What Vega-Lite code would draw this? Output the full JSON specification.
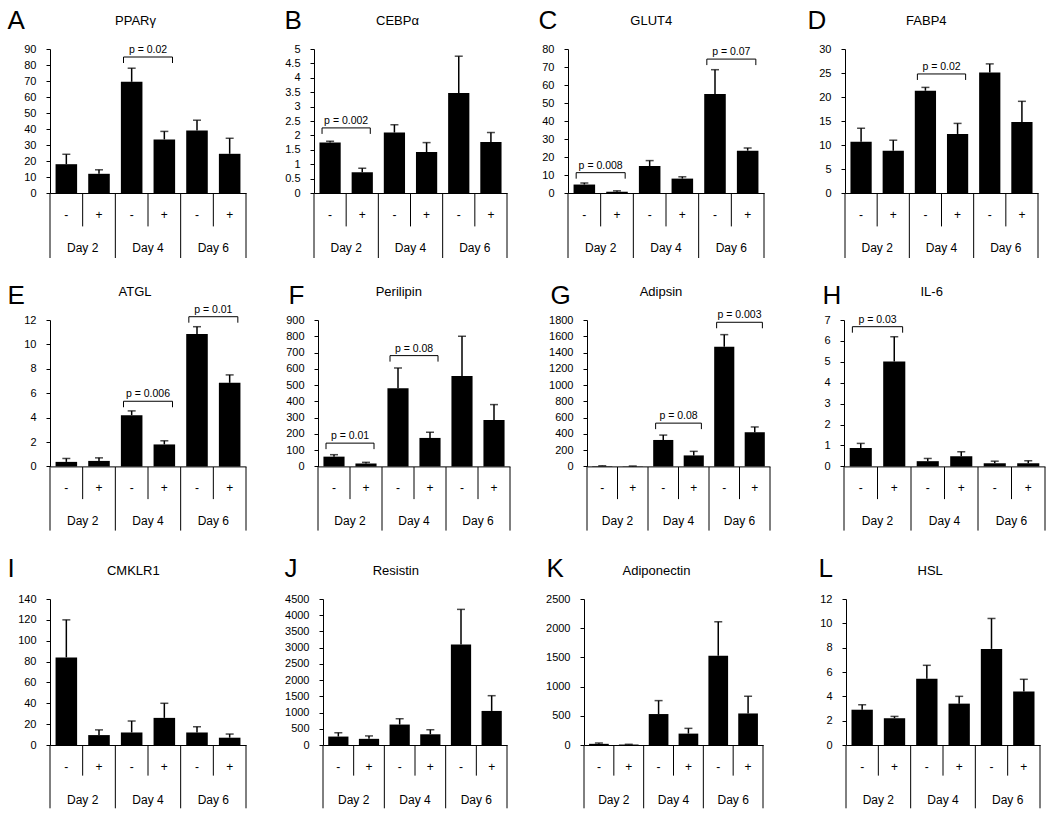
{
"$schema": "https://vega.github.io/schema/vega-lite/v6.json",
"padding": {"left": 7, "top": 4, "right": 5, "bottom": 5},
"datasets": {
"bars": [
{"p":"A","day":"Day 2","trt":"-","key":"D2-","mean":18,"upper":24.2},
{"p":"A","day":"Day 2","trt":"+","key":"D2+","mean":12,"upper":14.5},
{"p":"A","day":"Day 4","trt":"-","key":"D4-","mean":69.5,"upper":78},
{"p":"A","day":"Day 4","trt":"+","key":"D4+","mean":33.5,"upper":38.5},
{"p":"A","day":"Day 6","trt":"-","key":"D6-","mean":39,"upper":45.5},
{"p":"A","day":"Day 6","trt":"+","key":"D6+","mean":24.5,"upper":34.2},
{"p":"B","day":"Day 2","trt":"-","key":"D2-","mean":1.75,"upper":1.8},
{"p":"B","day":"Day 2","trt":"+","key":"D2+","mean":0.72,"upper":0.86},
{"p":"B","day":"Day 4","trt":"-","key":"D4-","mean":2.1,"upper":2.37},
{"p":"B","day":"Day 4","trt":"+","key":"D4+","mean":1.42,"upper":1.75},
{"p":"B","day":"Day 6","trt":"-","key":"D6-","mean":3.47,"upper":4.75},
{"p":"B","day":"Day 6","trt":"+","key":"D6+","mean":1.77,"upper":2.1},
{"p":"C","day":"Day 2","trt":"-","key":"D2-","mean":4.7,"upper":5.6},
{"p":"C","day":"Day 2","trt":"+","key":"D2+","mean":0.7,"upper":1.2},
{"p":"C","day":"Day 4","trt":"-","key":"D4-","mean":15,"upper":18},
{"p":"C","day":"Day 4","trt":"+","key":"D4+","mean":8,"upper":9},
{"p":"C","day":"Day 6","trt":"-","key":"D6-","mean":55,"upper":68.5},
{"p":"C","day":"Day 6","trt":"+","key":"D6+","mean":23.5,"upper":25},
{"p":"D","day":"Day 2","trt":"-","key":"D2-","mean":10.7,"upper":13.5},
{"p":"D","day":"Day 2","trt":"+","key":"D2+","mean":8.8,"upper":11},
{"p":"D","day":"Day 4","trt":"-","key":"D4-","mean":21.3,"upper":22},
{"p":"D","day":"Day 4","trt":"+","key":"D4+","mean":12.3,"upper":14.5},
{"p":"D","day":"Day 6","trt":"-","key":"D6-","mean":25.1,"upper":26.9},
{"p":"D","day":"Day 6","trt":"+","key":"D6+","mean":14.8,"upper":19.1},
{"p":"E","day":"Day 2","trt":"-","key":"D2-","mean":0.37,"upper":0.65},
{"p":"E","day":"Day 2","trt":"+","key":"D2+","mean":0.45,"upper":0.7},
{"p":"E","day":"Day 4","trt":"-","key":"D4-","mean":4.2,"upper":4.55},
{"p":"E","day":"Day 4","trt":"+","key":"D4+","mean":1.8,"upper":2.1},
{"p":"E","day":"Day 6","trt":"-","key":"D6-","mean":10.85,"upper":11.45},
{"p":"E","day":"Day 6","trt":"+","key":"D6+","mean":6.85,"upper":7.5},
{"p":"F","day":"Day 2","trt":"-","key":"D2-","mean":60,"upper":72},
{"p":"F","day":"Day 2","trt":"+","key":"D2+","mean":18,"upper":25},
{"p":"F","day":"Day 4","trt":"-","key":"D4-","mean":480,"upper":605},
{"p":"F","day":"Day 4","trt":"+","key":"D4+","mean":175,"upper":210},
{"p":"F","day":"Day 6","trt":"-","key":"D6-","mean":555,"upper":800},
{"p":"F","day":"Day 6","trt":"+","key":"D6+","mean":285,"upper":380},
{"p":"G","day":"Day 2","trt":"-","key":"D2-","mean":5,"upper":8},
{"p":"G","day":"Day 2","trt":"+","key":"D2+","mean":3,"upper":5},
{"p":"G","day":"Day 4","trt":"-","key":"D4-","mean":325,"upper":385},
{"p":"G","day":"Day 4","trt":"+","key":"D4+","mean":135,"upper":185},
{"p":"G","day":"Day 6","trt":"-","key":"D6-","mean":1470,"upper":1620},
{"p":"G","day":"Day 6","trt":"+","key":"D6+","mean":420,"upper":485},
{"p":"H","day":"Day 2","trt":"-","key":"D2-","mean":0.88,"upper":1.1},
{"p":"H","day":"Day 2","trt":"+","key":"D2+","mean":5.02,"upper":6.2},
{"p":"H","day":"Day 4","trt":"-","key":"D4-","mean":0.25,"upper":0.38},
{"p":"H","day":"Day 4","trt":"+","key":"D4+","mean":0.48,"upper":0.7},
{"p":"H","day":"Day 6","trt":"-","key":"D6-","mean":0.15,"upper":0.25},
{"p":"H","day":"Day 6","trt":"+","key":"D6+","mean":0.15,"upper":0.27},
{"p":"I","day":"Day 2","trt":"-","key":"D2-","mean":84,"upper":120},
{"p":"I","day":"Day 2","trt":"+","key":"D2+","mean":9.5,"upper":14.5},
{"p":"I","day":"Day 4","trt":"-","key":"D4-","mean":12,"upper":23},
{"p":"I","day":"Day 4","trt":"+","key":"D4+","mean":26,"upper":40},
{"p":"I","day":"Day 6","trt":"-","key":"D6-","mean":12,"upper":17.5},
{"p":"I","day":"Day 6","trt":"+","key":"D6+","mean":7,"upper":10.5},
{"p":"J","day":"Day 2","trt":"-","key":"D2-","mean":260,"upper":380},
{"p":"J","day":"Day 2","trt":"+","key":"D2+","mean":190,"upper":280},
{"p":"J","day":"Day 4","trt":"-","key":"D4-","mean":630,"upper":810},
{"p":"J","day":"Day 4","trt":"+","key":"D4+","mean":330,"upper":470},
{"p":"J","day":"Day 6","trt":"-","key":"D6-","mean":3100,"upper":4180},
{"p":"J","day":"Day 6","trt":"+","key":"D6+","mean":1050,"upper":1520},
{"p":"K","day":"Day 2","trt":"-","key":"D2-","mean":20,"upper":35},
{"p":"K","day":"Day 2","trt":"+","key":"D2+","mean":8,"upper":12},
{"p":"K","day":"Day 4","trt":"-","key":"D4-","mean":530,"upper":760},
{"p":"K","day":"Day 4","trt":"+","key":"D4+","mean":195,"upper":285},
{"p":"K","day":"Day 6","trt":"-","key":"D6-","mean":1530,"upper":2110},
{"p":"K","day":"Day 6","trt":"+","key":"D6+","mean":540,"upper":835},
{"p":"L","day":"Day 2","trt":"-","key":"D2-","mean":2.9,"upper":3.3},
{"p":"L","day":"Day 2","trt":"+","key":"D2+","mean":2.2,"upper":2.35},
{"p":"L","day":"Day 4","trt":"-","key":"D4-","mean":5.45,"upper":6.55},
{"p":"L","day":"Day 4","trt":"+","key":"D4+","mean":3.4,"upper":4.0},
{"p":"L","day":"Day 6","trt":"-","key":"D6-","mean":7.9,"upper":10.4},
{"p":"L","day":"Day 6","trt":"+","key":"D6+","mean":4.4,"upper":5.4}
],
"brk": [
{"p":"A","from":"D4-","to":"D4+","h":85,"label":"p = 0.02"},
{"p":"B","from":"D2-","to":"D2+","h":2.26,"label":"p = 0.002"},
{"p":"C","from":"D2-","to":"D2+","h":11.3,"label":"p = 0.008"},
{"p":"C","from":"D6-","to":"D6+","h":74.4,"label":"p = 0.07"},
{"p":"D","from":"D4-","to":"D4+","h":24.8,"label":"p = 0.02"},
{"p":"E","from":"D4-","to":"D4+","h":5.34,"label":"p = 0.006"},
{"p":"E","from":"D6-","to":"D6+","h":12.27,"label":"p = 0.01"},
{"p":"F","from":"D2-","to":"D2+","h":143,"label":"p = 0.01"},
{"p":"F","from":"D4-","to":"D4+","h":681,"label":"p = 0.08"},
{"p":"G","from":"D4-","to":"D4+","h":532,"label":"p = 0.08"},
{"p":"G","from":"D6-","to":"D6+","h":1772,"label":"p = 0.003"},
{"p":"H","from":"D2-","to":"D2+","h":6.68,"label":"p = 0.03"}
]
},
"vconcat": [
{"hconcat": [
{"vconcat": [
{"width": 196, "height": 144, "data": {"name": "bars"}, "transform": [{"filter": "datum.p === 'A'"}],
 "resolve": {"axis": {"x": "independent", "y": "independent"}},
 "layer": [
  {"mark": {"type": "bar", "width": {"band": 0.66}, "color": "black"},
   "encoding": {"x": {"field": "key", "type": "nominal", "scale": {"domain": ["D2-","D2+","D4-","D4+","D6-","D6+"], "paddingInner": 0, "paddingOuter": 0, "round": false}, "axis": {"orient": "bottom", "labels": false, "ticks": false, "title": null}},
    "y": {"field": "mean", "type": "quantitative", "scale": {"domain": [0, 90], "nice": false}, "axis": {"orient": "left", "values": [0,10,20,30,40,50,60,70,80,90], "format": "~r", "title": "A", "titleX": -43, "titleY": -21, "titleAngle": 0, "titleAlign": "left", "titleBaseline": "alphabetic", "titleFontSize": 26, "minExtent": 0}}}},
  {"mark": {"type": "rule", "strokeWidth": 1.5, "color": "black"},
   "encoding": {"x": {"field": "key", "type": "nominal", "axis": {"orient": "top", "labels": false, "ticks": false, "domain": false, "title": "PPARγ", "titleX": 85, "titleY": -28.6, "titleAlign": "center", "titleBaseline": "middle", "titleFontSize": 13, "minExtent": 45, "maxExtent": 45}},
    "y": {"field": "mean", "type": "quantitative", "axis": {"orient": "right", "labels": false, "ticks": false, "domain": false, "title": null, "minExtent": 38, "maxExtent": 38}},
    "y2": {"field": "upper"}}},
  {"mark": {"type": "tick", "orient": "horizontal", "size": 8, "thickness": 1.5, "color": "black"},
   "encoding": {"x": {"field": "key", "type": "nominal", "axis": null}, "y": {"field": "upper", "type": "quantitative", "axis": null}}},
  {"data": {"name": "brk"}, "transform": [{"filter": "datum.p === 'A'"}], "mark": {"type": "rule", "color": "black"},
   "encoding": {"x": {"field": "from", "type": "nominal", "bandPosition": 0.25, "axis": null}, "x2": {"field": "to", "bandPosition": 0.75}, "y": {"field": "h", "type": "quantitative", "axis": null}}},
  {"data": {"name": "brk"}, "transform": [{"filter": "datum.p === 'A'"}], "mark": {"type": "rule", "color": "black", "y2Offset": 6},
   "encoding": {"x": {"field": "from", "type": "nominal", "bandPosition": 0.25, "axis": null}, "y": {"field": "h", "type": "quantitative", "axis": null}, "y2": {"field": "h"}}},
  {"data": {"name": "brk"}, "transform": [{"filter": "datum.p === 'A'"}], "mark": {"type": "rule", "color": "black", "y2Offset": 6},
   "encoding": {"x": {"field": "to", "type": "nominal", "bandPosition": 0.75, "axis": null}, "y": {"field": "h", "type": "quantitative", "axis": null}, "y2": {"field": "h"}}},
  {"data": {"name": "brk"}, "transform": [{"filter": "datum.p === 'A'"}], "mark": {"type": "text", "fontSize": 10.5, "baseline": "alphabetic", "dy": -4},
   "encoding": {"x": {"field": "from", "type": "nominal", "bandPosition": 1, "axis": null}, "y": {"field": "h", "type": "quantitative", "axis": null}, "text": {"field": "label"}}}
 ]},
{"width": 196, "height": 65, "data": {"name": "bars"}, "transform": [{"filter": "datum.p === 'A'"}],
 "layer": [
  {"mark": {"type": "text", "fontSize": 12, "baseline": "middle"}, "encoding": {"x": {"field": "key", "type": "nominal", "scale": {"domain": ["D2-","D2+","D4-","D4+","D6-","D6+"], "paddingInner": 0, "paddingOuter": 0, "round": false}, "axis": null}, "y": {"datum": 0.334, "type": "quantitative", "scale": {"domain": [0, 1], "reverse": true}, "axis": null}, "text": {"field": "trt"}}},
  {"transform": [{"filter": "datum.trt === '-'"}], "mark": {"type": "text", "fontSize": 12, "baseline": "middle"}, "encoding": {"x": {"field": "key", "type": "nominal", "bandPosition": 1, "axis": null}, "y": {"datum": 0.846, "type": "quantitative", "axis": null}, "text": {"field": "day"}}},
  {"transform": [{"filter": "datum.trt === '+'"}], "mark": {"type": "rule", "color": "black"}, "encoding": {"x": {"field": "key", "type": "nominal", "bandPosition": 0, "axis": null}, "y": {"datum": 0, "type": "quantitative", "axis": null}, "y2": {"datum": 0.514}}},
  {"transform": [{"filter": "datum.trt === '-'"}], "mark": {"type": "rule", "color": "black"}, "encoding": {"x": {"field": "key", "type": "nominal", "bandPosition": 0, "axis": null}, "y": {"datum": 0, "type": "quantitative", "axis": null}, "y2": {"datum": 1}}},
  {"transform": [{"filter": "datum.key === 'D6+'"}], "mark": {"type": "rule", "color": "black"}, "encoding": {"x": {"field": "key", "type": "nominal", "bandPosition": 1, "axis": null}, "y": {"datum": 0, "type": "quantitative", "axis": null}, "y2": {"datum": 1}}}
 ]}
], "spacing": 0, "bounds": "flush"},
{"vconcat": [
{"width": 193, "height": 144, "data": {"name": "bars"}, "transform": [{"filter": "datum.p === 'B'"}],
 "resolve": {"axis": {"x": "independent", "y": "independent"}},
 "layer": [
  {"mark": {"type": "bar", "width": {"band": 0.66}, "color": "black"},
   "encoding": {"x": {"field": "key", "type": "nominal", "scale": {"domain": ["D2-","D2+","D4-","D4+","D6-","D6+"], "paddingInner": 0, "paddingOuter": 0, "round": false}, "axis": {"orient": "bottom", "labels": false, "ticks": false, "title": null}},
    "y": {"field": "mean", "type": "quantitative", "scale": {"domain": [0, 5], "nice": false}, "axis": {"orient": "left", "values": [0,0.5,1,1.5,2,2.5,3,3.5,4,4.5,5], "format": "~r", "title": "B", "titleX": -30, "titleY": -21, "titleAngle": 0, "titleAlign": "left", "titleBaseline": "alphabetic", "titleFontSize": 26, "minExtent": 0}}}},
  {"mark": {"type": "rule", "strokeWidth": 1.5, "color": "black"},
   "encoding": {"x": {"field": "key", "type": "nominal", "axis": {"orient": "top", "labels": false, "ticks": false, "domain": false, "title": "CEBPα", "titleX": 83, "titleY": -28.6, "titleAlign": "center", "titleBaseline": "middle", "titleFontSize": 13, "minExtent": 45, "maxExtent": 45}},
    "y": {"field": "mean", "type": "quantitative", "axis": {"orient": "right", "labels": false, "ticks": false, "domain": false, "title": null, "minExtent": 31, "maxExtent": 31}},
    "y2": {"field": "upper"}}},
  {"mark": {"type": "tick", "orient": "horizontal", "size": 8, "thickness": 1.5, "color": "black"},
   "encoding": {"x": {"field": "key", "type": "nominal", "axis": null}, "y": {"field": "upper", "type": "quantitative", "axis": null}}},
  {"data": {"name": "brk"}, "transform": [{"filter": "datum.p === 'B'"}], "mark": {"type": "rule", "color": "black"},
   "encoding": {"x": {"field": "from", "type": "nominal", "bandPosition": 0.25, "axis": null}, "x2": {"field": "to", "bandPosition": 0.75}, "y": {"field": "h", "type": "quantitative", "axis": null}}},
  {"data": {"name": "brk"}, "transform": [{"filter": "datum.p === 'B'"}], "mark": {"type": "rule", "color": "black", "y2Offset": 6},
   "encoding": {"x": {"field": "from", "type": "nominal", "bandPosition": 0.25, "axis": null}, "y": {"field": "h", "type": "quantitative", "axis": null}, "y2": {"field": "h"}}},
  {"data": {"name": "brk"}, "transform": [{"filter": "datum.p === 'B'"}], "mark": {"type": "rule", "color": "black", "y2Offset": 6},
   "encoding": {"x": {"field": "to", "type": "nominal", "bandPosition": 0.75, "axis": null}, "y": {"field": "h", "type": "quantitative", "axis": null}, "y2": {"field": "h"}}},
  {"data": {"name": "brk"}, "transform": [{"filter": "datum.p === 'B'"}], "mark": {"type": "text", "fontSize": 10.5, "baseline": "alphabetic", "dy": -4},
   "encoding": {"x": {"field": "from", "type": "nominal", "bandPosition": 1, "axis": null}, "y": {"field": "h", "type": "quantitative", "axis": null}, "text": {"field": "label"}}}
 ]},
{"width": 193, "height": 65, "data": {"name": "bars"}, "transform": [{"filter": "datum.p === 'B'"}],
 "layer": [
  {"mark": {"type": "text", "fontSize": 12, "baseline": "middle"}, "encoding": {"x": {"field": "key", "type": "nominal", "scale": {"domain": ["D2-","D2+","D4-","D4+","D6-","D6+"], "paddingInner": 0, "paddingOuter": 0, "round": false}, "axis": null}, "y": {"datum": 0.334, "type": "quantitative", "scale": {"domain": [0, 1], "reverse": true}, "axis": null}, "text": {"field": "trt"}}},
  {"transform": [{"filter": "datum.trt === '-'"}], "mark": {"type": "text", "fontSize": 12, "baseline": "middle"}, "encoding": {"x": {"field": "key", "type": "nominal", "bandPosition": 1, "axis": null}, "y": {"datum": 0.846, "type": "quantitative", "axis": null}, "text": {"field": "day"}}},
  {"transform": [{"filter": "datum.trt === '+'"}], "mark": {"type": "rule", "color": "black"}, "encoding": {"x": {"field": "key", "type": "nominal", "bandPosition": 0, "axis": null}, "y": {"datum": 0, "type": "quantitative", "axis": null}, "y2": {"datum": 0.514}}},
  {"transform": [{"filter": "datum.trt === '-'"}], "mark": {"type": "rule", "color": "black"}, "encoding": {"x": {"field": "key", "type": "nominal", "bandPosition": 0, "axis": null}, "y": {"datum": 0, "type": "quantitative", "axis": null}, "y2": {"datum": 1}}},
  {"transform": [{"filter": "datum.key === 'D6+'"}], "mark": {"type": "rule", "color": "black"}, "encoding": {"x": {"field": "key", "type": "nominal", "bandPosition": 1, "axis": null}, "y": {"datum": 0, "type": "quantitative", "axis": null}, "y2": {"datum": 1}}}
 ]}
], "spacing": 0, "bounds": "flush"},
{"vconcat": [
{"width": 196, "height": 144, "data": {"name": "bars"}, "transform": [{"filter": "datum.p === 'C'"}],
 "resolve": {"axis": {"x": "independent", "y": "independent"}},
 "layer": [
  {"mark": {"type": "bar", "width": {"band": 0.66}, "color": "black"},
   "encoding": {"x": {"field": "key", "type": "nominal", "scale": {"domain": ["D2-","D2+","D4-","D4+","D6-","D6+"], "paddingInner": 0, "paddingOuter": 0, "round": false}, "axis": {"orient": "bottom", "labels": false, "ticks": false, "title": null}},
    "y": {"field": "mean", "type": "quantitative", "scale": {"domain": [0, 80], "nice": false}, "axis": {"orient": "left", "values": [0,10,20,30,40,50,60,70,80], "format": "~r", "title": "C", "titleX": -30, "titleY": -21, "titleAngle": 0, "titleAlign": "left", "titleBaseline": "alphabetic", "titleFontSize": 26, "minExtent": 0}}}},
  {"mark": {"type": "rule", "strokeWidth": 1.5, "color": "black"},
   "encoding": {"x": {"field": "key", "type": "nominal", "axis": {"orient": "top", "labels": false, "ticks": false, "domain": false, "title": "GLUT4", "titleX": 82.8, "titleY": -28.6, "titleAlign": "center", "titleBaseline": "middle", "titleFontSize": 13, "minExtent": 45, "maxExtent": 45}},
    "y": {"field": "mean", "type": "quantitative", "axis": {"orient": "right", "labels": false, "ticks": false, "domain": false, "title": null, "minExtent": 43, "maxExtent": 43}},
    "y2": {"field": "upper"}}},
  {"mark": {"type": "tick", "orient": "horizontal", "size": 8, "thickness": 1.5, "color": "black"},
   "encoding": {"x": {"field": "key", "type": "nominal", "axis": null}, "y": {"field": "upper", "type": "quantitative", "axis": null}}},
  {"data": {"name": "brk"}, "transform": [{"filter": "datum.p === 'C'"}], "mark": {"type": "rule", "color": "black"},
   "encoding": {"x": {"field": "from", "type": "nominal", "bandPosition": 0.25, "axis": null}, "x2": {"field": "to", "bandPosition": 0.75}, "y": {"field": "h", "type": "quantitative", "axis": null}}},
  {"data": {"name": "brk"}, "transform": [{"filter": "datum.p === 'C'"}], "mark": {"type": "rule", "color": "black", "y2Offset": 6},
   "encoding": {"x": {"field": "from", "type": "nominal", "bandPosition": 0.25, "axis": null}, "y": {"field": "h", "type": "quantitative", "axis": null}, "y2": {"field": "h"}}},
  {"data": {"name": "brk"}, "transform": [{"filter": "datum.p === 'C'"}], "mark": {"type": "rule", "color": "black", "y2Offset": 6},
   "encoding": {"x": {"field": "to", "type": "nominal", "bandPosition": 0.75, "axis": null}, "y": {"field": "h", "type": "quantitative", "axis": null}, "y2": {"field": "h"}}},
  {"data": {"name": "brk"}, "transform": [{"filter": "datum.p === 'C'"}], "mark": {"type": "text", "fontSize": 10.5, "baseline": "alphabetic", "dy": -4},
   "encoding": {"x": {"field": "from", "type": "nominal", "bandPosition": 1, "axis": null}, "y": {"field": "h", "type": "quantitative", "axis": null}, "text": {"field": "label"}}}
 ]},
{"width": 196, "height": 65, "data": {"name": "bars"}, "transform": [{"filter": "datum.p === 'C'"}],
 "layer": [
  {"mark": {"type": "text", "fontSize": 12, "baseline": "middle"}, "encoding": {"x": {"field": "key", "type": "nominal", "scale": {"domain": ["D2-","D2+","D4-","D4+","D6-","D6+"], "paddingInner": 0, "paddingOuter": 0, "round": false}, "axis": null}, "y": {"datum": 0.334, "type": "quantitative", "scale": {"domain": [0, 1], "reverse": true}, "axis": null}, "text": {"field": "trt"}}},
  {"transform": [{"filter": "datum.trt === '-'"}], "mark": {"type": "text", "fontSize": 12, "baseline": "middle"}, "encoding": {"x": {"field": "key", "type": "nominal", "bandPosition": 1, "axis": null}, "y": {"datum": 0.846, "type": "quantitative", "axis": null}, "text": {"field": "day"}}},
  {"transform": [{"filter": "datum.trt === '+'"}], "mark": {"type": "rule", "color": "black"}, "encoding": {"x": {"field": "key", "type": "nominal", "bandPosition": 0, "axis": null}, "y": {"datum": 0, "type": "quantitative", "axis": null}, "y2": {"datum": 0.514}}},
  {"transform": [{"filter": "datum.trt === '-'"}], "mark": {"type": "rule", "color": "black"}, "encoding": {"x": {"field": "key", "type": "nominal", "bandPosition": 0, "axis": null}, "y": {"datum": 0, "type": "quantitative", "axis": null}, "y2": {"datum": 1}}},
  {"transform": [{"filter": "datum.key === 'D6+'"}], "mark": {"type": "rule", "color": "black"}, "encoding": {"x": {"field": "key", "type": "nominal", "bandPosition": 1, "axis": null}, "y": {"datum": 0, "type": "quantitative", "axis": null}, "y2": {"datum": 1}}}
 ]}
], "spacing": 0, "bounds": "flush"},
{"vconcat": [
{"width": 193, "height": 144, "data": {"name": "bars"}, "transform": [{"filter": "datum.p === 'D'"}],
 "resolve": {"axis": {"x": "independent", "y": "independent"}},
 "layer": [
  {"mark": {"type": "bar", "width": {"band": 0.66}, "color": "black"},
   "encoding": {"x": {"field": "key", "type": "nominal", "scale": {"domain": ["D2-","D2+","D4-","D4+","D6-","D6+"], "paddingInner": 0, "paddingOuter": 0, "round": false}, "axis": {"orient": "bottom", "labels": false, "ticks": false, "title": null}},
    "y": {"field": "mean", "type": "quantitative", "scale": {"domain": [0, 30], "nice": false}, "axis": {"orient": "left", "values": [0,5,10,15,20,25,30], "format": "~r", "title": "D", "titleX": -38, "titleY": -21, "titleAngle": 0, "titleAlign": "left", "titleBaseline": "alphabetic", "titleFontSize": 26, "minExtent": 0}}}},
  {"mark": {"type": "rule", "strokeWidth": 1.5, "color": "black"},
   "encoding": {"x": {"field": "key", "type": "nominal", "axis": {"orient": "top", "labels": false, "ticks": false, "domain": false, "title": "FABP4", "titleX": 80.8, "titleY": -28.6, "titleAlign": "center", "titleBaseline": "middle", "titleFontSize": 13, "minExtent": 45, "maxExtent": 45}},
    "y": {"field": "mean", "type": "quantitative", "axis": null},
    "y2": {"field": "upper"}}},
  {"mark": {"type": "tick", "orient": "horizontal", "size": 8, "thickness": 1.5, "color": "black"},
   "encoding": {"x": {"field": "key", "type": "nominal", "axis": null}, "y": {"field": "upper", "type": "quantitative", "axis": null}}},
  {"data": {"name": "brk"}, "transform": [{"filter": "datum.p === 'D'"}], "mark": {"type": "rule", "color": "black"},
   "encoding": {"x": {"field": "from", "type": "nominal", "bandPosition": 0.25, "axis": null}, "x2": {"field": "to", "bandPosition": 0.75}, "y": {"field": "h", "type": "quantitative", "axis": null}}},
  {"data": {"name": "brk"}, "transform": [{"filter": "datum.p === 'D'"}], "mark": {"type": "rule", "color": "black", "y2Offset": 6},
   "encoding": {"x": {"field": "from", "type": "nominal", "bandPosition": 0.25, "axis": null}, "y": {"field": "h", "type": "quantitative", "axis": null}, "y2": {"field": "h"}}},
  {"data": {"name": "brk"}, "transform": [{"filter": "datum.p === 'D'"}], "mark": {"type": "rule", "color": "black", "y2Offset": 6},
   "encoding": {"x": {"field": "to", "type": "nominal", "bandPosition": 0.75, "axis": null}, "y": {"field": "h", "type": "quantitative", "axis": null}, "y2": {"field": "h"}}},
  {"data": {"name": "brk"}, "transform": [{"filter": "datum.p === 'D'"}], "mark": {"type": "text", "fontSize": 10.5, "baseline": "alphabetic", "dy": -4},
   "encoding": {"x": {"field": "from", "type": "nominal", "bandPosition": 1, "axis": null}, "y": {"field": "h", "type": "quantitative", "axis": null}, "text": {"field": "label"}}}
 ]},
{"width": 193, "height": 65, "data": {"name": "bars"}, "transform": [{"filter": "datum.p === 'D'"}],
 "layer": [
  {"mark": {"type": "text", "fontSize": 12, "baseline": "middle"}, "encoding": {"x": {"field": "key", "type": "nominal", "scale": {"domain": ["D2-","D2+","D4-","D4+","D6-","D6+"], "paddingInner": 0, "paddingOuter": 0, "round": false}, "axis": null}, "y": {"datum": 0.334, "type": "quantitative", "scale": {"domain": [0, 1], "reverse": true}, "axis": null}, "text": {"field": "trt"}}},
  {"transform": [{"filter": "datum.trt === '-'"}], "mark": {"type": "text", "fontSize": 12, "baseline": "middle"}, "encoding": {"x": {"field": "key", "type": "nominal", "bandPosition": 1, "axis": null}, "y": {"datum": 0.846, "type": "quantitative", "axis": null}, "text": {"field": "day"}}},
  {"transform": [{"filter": "datum.trt === '+'"}], "mark": {"type": "rule", "color": "black"}, "encoding": {"x": {"field": "key", "type": "nominal", "bandPosition": 0, "axis": null}, "y": {"datum": 0, "type": "quantitative", "axis": null}, "y2": {"datum": 0.514}}},
  {"transform": [{"filter": "datum.trt === '-'"}], "mark": {"type": "rule", "color": "black"}, "encoding": {"x": {"field": "key", "type": "nominal", "bandPosition": 0, "axis": null}, "y": {"datum": 0, "type": "quantitative", "axis": null}, "y2": {"datum": 1}}},
  {"transform": [{"filter": "datum.key === 'D6+'"}], "mark": {"type": "rule", "color": "black"}, "encoding": {"x": {"field": "key", "type": "nominal", "bandPosition": 1, "axis": null}, "y": {"datum": 0, "type": "quantitative", "axis": null}, "y2": {"datum": 1}}}
 ]}
], "spacing": 0, "bounds": "flush"}
], "spacing": 0, "bounds": "full"},
{"hconcat": [
{"vconcat": [
{"width": 196, "height": 146.4, "data": {"name": "bars"}, "transform": [{"filter": "datum.p === 'E'"}],
 "resolve": {"axis": {"x": "independent", "y": "independent"}},
 "layer": [
  {"mark": {"type": "bar", "width": {"band": 0.66}, "color": "black"},
   "encoding": {"x": {"field": "key", "type": "nominal", "scale": {"domain": ["D2-","D2+","D4-","D4+","D6-","D6+"], "paddingInner": 0, "paddingOuter": 0, "round": false}, "axis": {"orient": "bottom", "labels": false, "ticks": false, "title": null}},
    "y": {"field": "mean", "type": "quantitative", "scale": {"domain": [0, 12], "nice": false}, "axis": {"orient": "left", "values": [0,2,4,6,8,10,12], "format": "~r", "title": "E", "titleX": -43, "titleY": -17, "titleAngle": 0, "titleAlign": "left", "titleBaseline": "alphabetic", "titleFontSize": 26, "minExtent": 0}}}},
  {"mark": {"type": "rule", "strokeWidth": 1.5, "color": "black"},
   "encoding": {"x": {"field": "key", "type": "nominal", "axis": {"orient": "top", "labels": false, "ticks": false, "domain": false, "title": "ATGL", "titleX": 84.5, "titleY": -29, "titleAlign": "center", "titleBaseline": "middle", "titleFontSize": 13, "minExtent": 61, "maxExtent": 61}},
    "y": {"field": "mean", "type": "quantitative", "axis": {"orient": "right", "labels": false, "ticks": false, "domain": false, "title": null, "minExtent": 39, "maxExtent": 39}},
    "y2": {"field": "upper"}}},
  {"mark": {"type": "tick", "orient": "horizontal", "size": 8, "thickness": 1.5, "color": "black"},
   "encoding": {"x": {"field": "key", "type": "nominal", "axis": null}, "y": {"field": "upper", "type": "quantitative", "axis": null}}},
  {"data": {"name": "brk"}, "transform": [{"filter": "datum.p === 'E'"}], "mark": {"type": "rule", "color": "black"},
   "encoding": {"x": {"field": "from", "type": "nominal", "bandPosition": 0.25, "axis": null}, "x2": {"field": "to", "bandPosition": 0.75}, "y": {"field": "h", "type": "quantitative", "axis": null}}},
  {"data": {"name": "brk"}, "transform": [{"filter": "datum.p === 'E'"}], "mark": {"type": "rule", "color": "black", "y2Offset": 6},
   "encoding": {"x": {"field": "from", "type": "nominal", "bandPosition": 0.25, "axis": null}, "y": {"field": "h", "type": "quantitative", "axis": null}, "y2": {"field": "h"}}},
  {"data": {"name": "brk"}, "transform": [{"filter": "datum.p === 'E'"}], "mark": {"type": "rule", "color": "black", "y2Offset": 6},
   "encoding": {"x": {"field": "to", "type": "nominal", "bandPosition": 0.75, "axis": null}, "y": {"field": "h", "type": "quantitative", "axis": null}, "y2": {"field": "h"}}},
  {"data": {"name": "brk"}, "transform": [{"filter": "datum.p === 'E'"}], "mark": {"type": "text", "fontSize": 10.5, "baseline": "alphabetic", "dy": -4},
   "encoding": {"x": {"field": "from", "type": "nominal", "bandPosition": 1, "axis": null}, "y": {"field": "h", "type": "quantitative", "axis": null}, "text": {"field": "label"}}}
 ]},
{"width": 196, "height": 63.6, "data": {"name": "bars"}, "transform": [{"filter": "datum.p === 'E'"}],
 "layer": [
  {"mark": {"type": "text", "fontSize": 12, "baseline": "middle"}, "encoding": {"x": {"field": "key", "type": "nominal", "scale": {"domain": ["D2-","D2+","D4-","D4+","D6-","D6+"], "paddingInner": 0, "paddingOuter": 0, "round": false}, "axis": null}, "y": {"datum": 0.323, "type": "quantitative", "scale": {"domain": [0, 1], "reverse": true}, "axis": null}, "text": {"field": "trt"}}},
  {"transform": [{"filter": "datum.trt === '-'"}], "mark": {"type": "text", "fontSize": 12, "baseline": "middle"}, "encoding": {"x": {"field": "key", "type": "nominal", "bandPosition": 1, "axis": null}, "y": {"datum": 0.844, "type": "quantitative", "axis": null}, "text": {"field": "day"}}},
  {"transform": [{"filter": "datum.trt === '+'"}], "mark": {"type": "rule", "color": "black"}, "encoding": {"x": {"field": "key", "type": "nominal", "bandPosition": 0, "axis": null}, "y": {"datum": 0, "type": "quantitative", "axis": null}, "y2": {"datum": 0.505}}},
  {"transform": [{"filter": "datum.trt === '-'"}], "mark": {"type": "rule", "color": "black"}, "encoding": {"x": {"field": "key", "type": "nominal", "bandPosition": 0, "axis": null}, "y": {"datum": 0, "type": "quantitative", "axis": null}, "y2": {"datum": 1}}},
  {"transform": [{"filter": "datum.key === 'D6+'"}], "mark": {"type": "rule", "color": "black"}, "encoding": {"x": {"field": "key", "type": "nominal", "bandPosition": 1, "axis": null}, "y": {"datum": 0, "type": "quantitative", "axis": null}, "y2": {"datum": 1}}}
 ]}
], "spacing": 0, "bounds": "flush"},
{"vconcat": [
{"width": 192, "height": 146.4, "data": {"name": "bars"}, "transform": [{"filter": "datum.p === 'F'"}],
 "resolve": {"axis": {"x": "independent", "y": "independent"}},
 "layer": [
  {"mark": {"type": "bar", "width": {"band": 0.66}, "color": "black"},
   "encoding": {"x": {"field": "key", "type": "nominal", "scale": {"domain": ["D2-","D2+","D4-","D4+","D6-","D6+"], "paddingInner": 0, "paddingOuter": 0, "round": false}, "axis": {"orient": "bottom", "labels": false, "ticks": false, "title": null}},
    "y": {"field": "mean", "type": "quantitative", "scale": {"domain": [0, 900], "nice": false}, "axis": {"orient": "left", "values": [0,100,200,300,400,500,600,700,800,900], "format": "~r", "title": "F", "titleX": -30, "titleY": -17, "titleAngle": 0, "titleAlign": "left", "titleBaseline": "alphabetic", "titleFontSize": 26, "minExtent": 0}}}},
  {"mark": {"type": "rule", "strokeWidth": 1.5, "color": "black"},
   "encoding": {"x": {"field": "key", "type": "nominal", "axis": {"orient": "top", "labels": false, "ticks": false, "domain": false, "title": "Perilipin", "titleX": 80.3, "titleY": -29, "titleAlign": "center", "titleBaseline": "middle", "titleFontSize": 13, "minExtent": 61, "maxExtent": 61}},
    "y": {"field": "mean", "type": "quantitative", "axis": {"orient": "right", "labels": false, "ticks": false, "domain": false, "title": null, "minExtent": 38, "maxExtent": 38}},
    "y2": {"field": "upper"}}},
  {"mark": {"type": "tick", "orient": "horizontal", "size": 8, "thickness": 1.5, "color": "black"},
   "encoding": {"x": {"field": "key", "type": "nominal", "axis": null}, "y": {"field": "upper", "type": "quantitative", "axis": null}}},
  {"data": {"name": "brk"}, "transform": [{"filter": "datum.p === 'F'"}], "mark": {"type": "rule", "color": "black"},
   "encoding": {"x": {"field": "from", "type": "nominal", "bandPosition": 0.25, "axis": null}, "x2": {"field": "to", "bandPosition": 0.75}, "y": {"field": "h", "type": "quantitative", "axis": null}}},
  {"data": {"name": "brk"}, "transform": [{"filter": "datum.p === 'F'"}], "mark": {"type": "rule", "color": "black", "y2Offset": 6},
   "encoding": {"x": {"field": "from", "type": "nominal", "bandPosition": 0.25, "axis": null}, "y": {"field": "h", "type": "quantitative", "axis": null}, "y2": {"field": "h"}}},
  {"data": {"name": "brk"}, "transform": [{"filter": "datum.p === 'F'"}], "mark": {"type": "rule", "color": "black", "y2Offset": 6},
   "encoding": {"x": {"field": "to", "type": "nominal", "bandPosition": 0.75, "axis": null}, "y": {"field": "h", "type": "quantitative", "axis": null}, "y2": {"field": "h"}}},
  {"data": {"name": "brk"}, "transform": [{"filter": "datum.p === 'F'"}], "mark": {"type": "text", "fontSize": 10.5, "baseline": "alphabetic", "dy": -4},
   "encoding": {"x": {"field": "from", "type": "nominal", "bandPosition": 1, "axis": null}, "y": {"field": "h", "type": "quantitative", "axis": null}, "text": {"field": "label"}}}
 ]},
{"width": 192, "height": 63.6, "data": {"name": "bars"}, "transform": [{"filter": "datum.p === 'F'"}],
 "layer": [
  {"mark": {"type": "text", "fontSize": 12, "baseline": "middle"}, "encoding": {"x": {"field": "key", "type": "nominal", "scale": {"domain": ["D2-","D2+","D4-","D4+","D6-","D6+"], "paddingInner": 0, "paddingOuter": 0, "round": false}, "axis": null}, "y": {"datum": 0.323, "type": "quantitative", "scale": {"domain": [0, 1], "reverse": true}, "axis": null}, "text": {"field": "trt"}}},
  {"transform": [{"filter": "datum.trt === '-'"}], "mark": {"type": "text", "fontSize": 12, "baseline": "middle"}, "encoding": {"x": {"field": "key", "type": "nominal", "bandPosition": 1, "axis": null}, "y": {"datum": 0.844, "type": "quantitative", "axis": null}, "text": {"field": "day"}}},
  {"transform": [{"filter": "datum.trt === '+'"}], "mark": {"type": "rule", "color": "black"}, "encoding": {"x": {"field": "key", "type": "nominal", "bandPosition": 0, "axis": null}, "y": {"datum": 0, "type": "quantitative", "axis": null}, "y2": {"datum": 0.505}}},
  {"transform": [{"filter": "datum.trt === '-'"}], "mark": {"type": "rule", "color": "black"}, "encoding": {"x": {"field": "key", "type": "nominal", "bandPosition": 0, "axis": null}, "y": {"datum": 0, "type": "quantitative", "axis": null}, "y2": {"datum": 1}}},
  {"transform": [{"filter": "datum.key === 'D6+'"}], "mark": {"type": "rule", "color": "black"}, "encoding": {"x": {"field": "key", "type": "nominal", "bandPosition": 1, "axis": null}, "y": {"datum": 0, "type": "quantitative", "axis": null}, "y2": {"datum": 1}}}
 ]}
], "spacing": 0, "bounds": "flush"},
{"vconcat": [
{"width": 183, "height": 146.4, "data": {"name": "bars"}, "transform": [{"filter": "datum.p === 'G'"}],
 "resolve": {"axis": {"x": "independent", "y": "independent"}},
 "layer": [
  {"mark": {"type": "bar", "width": {"band": 0.66}, "color": "black"},
   "encoding": {"x": {"field": "key", "type": "nominal", "scale": {"domain": ["D2-","D2+","D4-","D4+","D6-","D6+"], "paddingInner": 0, "paddingOuter": 0, "round": false}, "axis": {"orient": "bottom", "labels": false, "ticks": false, "title": null}},
    "y": {"field": "mean", "type": "quantitative", "scale": {"domain": [0, 1800], "nice": false}, "axis": {"orient": "left", "values": [0,200,400,600,800,1000,1200,1400,1600,1800], "format": "~r", "title": "G", "titleX": -37, "titleY": -17, "titleAngle": 0, "titleAlign": "left", "titleBaseline": "alphabetic", "titleFontSize": 26, "minExtent": 0}}}},
  {"mark": {"type": "rule", "strokeWidth": 1.5, "color": "black"},
   "encoding": {"x": {"field": "key", "type": "nominal", "axis": {"orient": "top", "labels": false, "ticks": false, "domain": false, "title": "Adipsin", "titleX": 73.5, "titleY": -29, "titleAlign": "center", "titleBaseline": "middle", "titleFontSize": 13, "minExtent": 61, "maxExtent": 61}},
    "y": {"field": "mean", "type": "quantitative", "axis": {"orient": "right", "labels": false, "ticks": false, "domain": false, "title": null, "minExtent": 52, "maxExtent": 52}},
    "y2": {"field": "upper"}}},
  {"mark": {"type": "tick", "orient": "horizontal", "size": 8, "thickness": 1.5, "color": "black"},
   "encoding": {"x": {"field": "key", "type": "nominal", "axis": null}, "y": {"field": "upper", "type": "quantitative", "axis": null}}},
  {"data": {"name": "brk"}, "transform": [{"filter": "datum.p === 'G'"}], "mark": {"type": "rule", "color": "black"},
   "encoding": {"x": {"field": "from", "type": "nominal", "bandPosition": 0.25, "axis": null}, "x2": {"field": "to", "bandPosition": 0.75}, "y": {"field": "h", "type": "quantitative", "axis": null}}},
  {"data": {"name": "brk"}, "transform": [{"filter": "datum.p === 'G'"}], "mark": {"type": "rule", "color": "black", "y2Offset": 6},
   "encoding": {"x": {"field": "from", "type": "nominal", "bandPosition": 0.25, "axis": null}, "y": {"field": "h", "type": "quantitative", "axis": null}, "y2": {"field": "h"}}},
  {"data": {"name": "brk"}, "transform": [{"filter": "datum.p === 'G'"}], "mark": {"type": "rule", "color": "black", "y2Offset": 6},
   "encoding": {"x": {"field": "to", "type": "nominal", "bandPosition": 0.75, "axis": null}, "y": {"field": "h", "type": "quantitative", "axis": null}, "y2": {"field": "h"}}},
  {"data": {"name": "brk"}, "transform": [{"filter": "datum.p === 'G'"}], "mark": {"type": "text", "fontSize": 10.5, "baseline": "alphabetic", "dy": -4},
   "encoding": {"x": {"field": "from", "type": "nominal", "bandPosition": 1, "axis": null}, "y": {"field": "h", "type": "quantitative", "axis": null}, "text": {"field": "label"}}}
 ]},
{"width": 183, "height": 63.6, "data": {"name": "bars"}, "transform": [{"filter": "datum.p === 'G'"}],
 "layer": [
  {"mark": {"type": "text", "fontSize": 12, "baseline": "middle"}, "encoding": {"x": {"field": "key", "type": "nominal", "scale": {"domain": ["D2-","D2+","D4-","D4+","D6-","D6+"], "paddingInner": 0, "paddingOuter": 0, "round": false}, "axis": null}, "y": {"datum": 0.323, "type": "quantitative", "scale": {"domain": [0, 1], "reverse": true}, "axis": null}, "text": {"field": "trt"}}},
  {"transform": [{"filter": "datum.trt === '-'"}], "mark": {"type": "text", "fontSize": 12, "baseline": "middle"}, "encoding": {"x": {"field": "key", "type": "nominal", "bandPosition": 1, "axis": null}, "y": {"datum": 0.844, "type": "quantitative", "axis": null}, "text": {"field": "day"}}},
  {"transform": [{"filter": "datum.trt === '+'"}], "mark": {"type": "rule", "color": "black"}, "encoding": {"x": {"field": "key", "type": "nominal", "bandPosition": 0, "axis": null}, "y": {"datum": 0, "type": "quantitative", "axis": null}, "y2": {"datum": 0.505}}},
  {"transform": [{"filter": "datum.trt === '-'"}], "mark": {"type": "rule", "color": "black"}, "encoding": {"x": {"field": "key", "type": "nominal", "bandPosition": 0, "axis": null}, "y": {"datum": 0, "type": "quantitative", "axis": null}, "y2": {"datum": 1}}},
  {"transform": [{"filter": "datum.key === 'D6+'"}], "mark": {"type": "rule", "color": "black"}, "encoding": {"x": {"field": "key", "type": "nominal", "bandPosition": 1, "axis": null}, "y": {"datum": 0, "type": "quantitative", "axis": null}, "y2": {"datum": 1}}}
 ]}
], "spacing": 0, "bounds": "flush"},
{"vconcat": [
{"width": 201, "height": 146.4, "data": {"name": "bars"}, "transform": [{"filter": "datum.p === 'H'"}],
 "resolve": {"axis": {"x": "independent", "y": "independent"}},
 "layer": [
  {"mark": {"type": "bar", "width": {"band": 0.66}, "color": "black"},
   "encoding": {"x": {"field": "key", "type": "nominal", "scale": {"domain": ["D2-","D2+","D4-","D4+","D6-","D6+"], "paddingInner": 0, "paddingOuter": 0, "round": false}, "axis": {"orient": "bottom", "labels": false, "ticks": false, "title": null}},
    "y": {"field": "mean", "type": "quantitative", "scale": {"domain": [0, 7], "nice": false}, "axis": {"orient": "left", "values": [0,1,2,3,4,5,6,7], "format": "~r", "title": "H", "titleX": -22, "titleY": -17, "titleAngle": 0, "titleAlign": "left", "titleBaseline": "alphabetic", "titleFontSize": 26, "minExtent": 0}}}},
  {"mark": {"type": "rule", "strokeWidth": 1.5, "color": "black"},
   "encoding": {"x": {"field": "key", "type": "nominal", "axis": {"orient": "top", "labels": false, "ticks": false, "domain": false, "title": "IL-6", "titleX": 87.2, "titleY": -29, "titleAlign": "center", "titleBaseline": "middle", "titleFontSize": 13, "minExtent": 61, "maxExtent": 61}},
    "y": {"field": "mean", "type": "quantitative", "axis": null},
    "y2": {"field": "upper"}}},
  {"mark": {"type": "tick", "orient": "horizontal", "size": 8, "thickness": 1.5, "color": "black"},
   "encoding": {"x": {"field": "key", "type": "nominal", "axis": null}, "y": {"field": "upper", "type": "quantitative", "axis": null}}},
  {"data": {"name": "brk"}, "transform": [{"filter": "datum.p === 'H'"}], "mark": {"type": "rule", "color": "black"},
   "encoding": {"x": {"field": "from", "type": "nominal", "bandPosition": 0.25, "axis": null}, "x2": {"field": "to", "bandPosition": 0.75}, "y": {"field": "h", "type": "quantitative", "axis": null}}},
  {"data": {"name": "brk"}, "transform": [{"filter": "datum.p === 'H'"}], "mark": {"type": "rule", "color": "black", "y2Offset": 6},
   "encoding": {"x": {"field": "from", "type": "nominal", "bandPosition": 0.25, "axis": null}, "y": {"field": "h", "type": "quantitative", "axis": null}, "y2": {"field": "h"}}},
  {"data": {"name": "brk"}, "transform": [{"filter": "datum.p === 'H'"}], "mark": {"type": "rule", "color": "black", "y2Offset": 6},
   "encoding": {"x": {"field": "to", "type": "nominal", "bandPosition": 0.75, "axis": null}, "y": {"field": "h", "type": "quantitative", "axis": null}, "y2": {"field": "h"}}},
  {"data": {"name": "brk"}, "transform": [{"filter": "datum.p === 'H'"}], "mark": {"type": "text", "fontSize": 10.5, "baseline": "alphabetic", "dy": -4},
   "encoding": {"x": {"field": "from", "type": "nominal", "bandPosition": 1, "axis": null}, "y": {"field": "h", "type": "quantitative", "axis": null}, "text": {"field": "label"}}}
 ]},
{"width": 201, "height": 63.6, "data": {"name": "bars"}, "transform": [{"filter": "datum.p === 'H'"}],
 "layer": [
  {"mark": {"type": "text", "fontSize": 12, "baseline": "middle"}, "encoding": {"x": {"field": "key", "type": "nominal", "scale": {"domain": ["D2-","D2+","D4-","D4+","D6-","D6+"], "paddingInner": 0, "paddingOuter": 0, "round": false}, "axis": null}, "y": {"datum": 0.323, "type": "quantitative", "scale": {"domain": [0, 1], "reverse": true}, "axis": null}, "text": {"field": "trt"}}},
  {"transform": [{"filter": "datum.trt === '-'"}], "mark": {"type": "text", "fontSize": 12, "baseline": "middle"}, "encoding": {"x": {"field": "key", "type": "nominal", "bandPosition": 1, "axis": null}, "y": {"datum": 0.844, "type": "quantitative", "axis": null}, "text": {"field": "day"}}},
  {"transform": [{"filter": "datum.trt === '+'"}], "mark": {"type": "rule", "color": "black"}, "encoding": {"x": {"field": "key", "type": "nominal", "bandPosition": 0, "axis": null}, "y": {"datum": 0, "type": "quantitative", "axis": null}, "y2": {"datum": 0.505}}},
  {"transform": [{"filter": "datum.trt === '-'"}], "mark": {"type": "rule", "color": "black"}, "encoding": {"x": {"field": "key", "type": "nominal", "bandPosition": 0, "axis": null}, "y": {"datum": 0, "type": "quantitative", "axis": null}, "y2": {"datum": 1}}},
  {"transform": [{"filter": "datum.key === 'D6+'"}], "mark": {"type": "rule", "color": "black"}, "encoding": {"x": {"field": "key", "type": "nominal", "bandPosition": 1, "axis": null}, "y": {"datum": 0, "type": "quantitative", "axis": null}, "y2": {"datum": 1}}}
 ]}
], "spacing": 0, "bounds": "flush"}
], "spacing": 0, "bounds": "full"},
{"hconcat": [
{"vconcat": [
{"width": 196, "height": 146, "data": {"name": "bars"}, "transform": [{"filter": "datum.p === 'I'"}],
 "resolve": {"axis": {"x": "independent", "y": "independent"}},
 "layer": [
  {"mark": {"type": "bar", "width": {"band": 0.66}, "color": "black"},
   "encoding": {"x": {"field": "key", "type": "nominal", "scale": {"domain": ["D2-","D2+","D4-","D4+","D6-","D6+"], "paddingInner": 0, "paddingOuter": 0, "round": false}, "axis": {"orient": "bottom", "labels": false, "ticks": false, "title": null}},
    "y": {"field": "mean", "type": "quantitative", "scale": {"domain": [0, 140], "nice": false}, "axis": {"orient": "left", "values": [0,20,40,60,80,100,120,140], "format": "~r", "title": "I", "titleX": -43, "titleY": -22.3, "titleAngle": 0, "titleAlign": "left", "titleBaseline": "alphabetic", "titleFontSize": 26, "minExtent": 0}}}},
  {"mark": {"type": "rule", "strokeWidth": 1.5, "color": "black"},
   "encoding": {"x": {"field": "key", "type": "nominal", "axis": {"orient": "top", "labels": false, "ticks": false, "domain": false, "title": "CMKLR1", "titleX": 82.8, "titleY": -28.3, "titleAlign": "center", "titleBaseline": "middle", "titleFontSize": 13, "minExtent": 66.7, "maxExtent": 66.7}},
    "y": {"field": "mean", "type": "quantitative", "axis": {"orient": "right", "labels": false, "ticks": false, "domain": false, "title": null, "minExtent": 38, "maxExtent": 38}},
    "y2": {"field": "upper"}}},
  {"mark": {"type": "tick", "orient": "horizontal", "size": 8, "thickness": 1.5, "color": "black"},
   "encoding": {"x": {"field": "key", "type": "nominal", "axis": null}, "y": {"field": "upper", "type": "quantitative", "axis": null}}}
 ]},
{"width": 196, "height": 63.3, "data": {"name": "bars"}, "transform": [{"filter": "datum.p === 'I'"}],
 "layer": [
  {"mark": {"type": "text", "fontSize": 12, "baseline": "middle"}, "encoding": {"x": {"field": "key", "type": "nominal", "scale": {"domain": ["D2-","D2+","D4-","D4+","D6-","D6+"], "paddingInner": 0, "paddingOuter": 0, "round": false}, "axis": null}, "y": {"datum": 0.342, "type": "quantitative", "scale": {"domain": [0, 1], "reverse": true}, "axis": null}, "text": {"field": "trt"}}},
  {"transform": [{"filter": "datum.trt === '-'"}], "mark": {"type": "text", "fontSize": 12, "baseline": "middle"}, "encoding": {"x": {"field": "key", "type": "nominal", "bandPosition": 1, "axis": null}, "y": {"datum": 0.868, "type": "quantitative", "axis": null}, "text": {"field": "day"}}},
  {"transform": [{"filter": "datum.trt === '+'"}], "mark": {"type": "rule", "color": "black"}, "encoding": {"x": {"field": "key", "type": "nominal", "bandPosition": 0, "axis": null}, "y": {"datum": 0, "type": "quantitative", "axis": null}, "y2": {"datum": 0.484}}},
  {"transform": [{"filter": "datum.trt === '-'"}], "mark": {"type": "rule", "color": "black"}, "encoding": {"x": {"field": "key", "type": "nominal", "bandPosition": 0, "axis": null}, "y": {"datum": 0, "type": "quantitative", "axis": null}, "y2": {"datum": 1}}},
  {"transform": [{"filter": "datum.key === 'D6+'"}], "mark": {"type": "rule", "color": "black"}, "encoding": {"x": {"field": "key", "type": "nominal", "bandPosition": 1, "axis": null}, "y": {"datum": 0, "type": "quantitative", "axis": null}, "y2": {"datum": 1}}}
 ]}
], "spacing": 0, "bounds": "flush"},
{"vconcat": [
{"width": 184, "height": 146, "data": {"name": "bars"}, "transform": [{"filter": "datum.p === 'J'"}],
 "resolve": {"axis": {"x": "independent", "y": "independent"}},
 "layer": [
  {"mark": {"type": "bar", "width": {"band": 0.66}, "color": "black"},
   "encoding": {"x": {"field": "key", "type": "nominal", "scale": {"domain": ["D2-","D2+","D4-","D4+","D6-","D6+"], "paddingInner": 0, "paddingOuter": 0, "round": false}, "axis": {"orient": "bottom", "labels": false, "ticks": false, "title": null}},
    "y": {"field": "mean", "type": "quantitative", "scale": {"domain": [0, 4500], "nice": false}, "axis": {"orient": "left", "values": [0,500,1000,1500,2000,2500,3000,3500,4000,4500], "format": "~r", "title": "J", "titleX": -39, "titleY": -22.3, "titleAngle": 0, "titleAlign": "left", "titleBaseline": "alphabetic", "titleFontSize": 26, "minExtent": 0}}}},
  {"mark": {"type": "rule", "strokeWidth": 1.5, "color": "black"},
   "encoding": {"x": {"field": "key", "type": "nominal", "axis": {"orient": "top", "labels": false, "ticks": false, "domain": false, "title": "Resistin", "titleX": 72.3, "titleY": -28.3, "titleAlign": "center", "titleBaseline": "middle", "titleFontSize": 13, "minExtent": 66.7, "maxExtent": 66.7}},
    "y": {"field": "mean", "type": "quantitative", "axis": {"orient": "right", "labels": false, "ticks": false, "domain": false, "title": null, "minExtent": 38, "maxExtent": 38}},
    "y2": {"field": "upper"}}},
  {"mark": {"type": "tick", "orient": "horizontal", "size": 8, "thickness": 1.5, "color": "black"},
   "encoding": {"x": {"field": "key", "type": "nominal", "axis": null}, "y": {"field": "upper", "type": "quantitative", "axis": null}}}
 ]},
{"width": 184, "height": 63.3, "data": {"name": "bars"}, "transform": [{"filter": "datum.p === 'J'"}],
 "layer": [
  {"mark": {"type": "text", "fontSize": 12, "baseline": "middle"}, "encoding": {"x": {"field": "key", "type": "nominal", "scale": {"domain": ["D2-","D2+","D4-","D4+","D6-","D6+"], "paddingInner": 0, "paddingOuter": 0, "round": false}, "axis": null}, "y": {"datum": 0.342, "type": "quantitative", "scale": {"domain": [0, 1], "reverse": true}, "axis": null}, "text": {"field": "trt"}}},
  {"transform": [{"filter": "datum.trt === '-'"}], "mark": {"type": "text", "fontSize": 12, "baseline": "middle"}, "encoding": {"x": {"field": "key", "type": "nominal", "bandPosition": 1, "axis": null}, "y": {"datum": 0.868, "type": "quantitative", "axis": null}, "text": {"field": "day"}}},
  {"transform": [{"filter": "datum.trt === '+'"}], "mark": {"type": "rule", "color": "black"}, "encoding": {"x": {"field": "key", "type": "nominal", "bandPosition": 0, "axis": null}, "y": {"datum": 0, "type": "quantitative", "axis": null}, "y2": {"datum": 0.484}}},
  {"transform": [{"filter": "datum.trt === '-'"}], "mark": {"type": "rule", "color": "black"}, "encoding": {"x": {"field": "key", "type": "nominal", "bandPosition": 0, "axis": null}, "y": {"datum": 0, "type": "quantitative", "axis": null}, "y2": {"datum": 1}}},
  {"transform": [{"filter": "datum.key === 'D6+'"}], "mark": {"type": "rule", "color": "black"}, "encoding": {"x": {"field": "key", "type": "nominal", "bandPosition": 1, "axis": null}, "y": {"datum": 0, "type": "quantitative", "axis": null}, "y2": {"datum": 1}}}
 ]}
], "spacing": 0, "bounds": "flush"},
{"vconcat": [
{"width": 179, "height": 146, "data": {"name": "bars"}, "transform": [{"filter": "datum.p === 'K'"}],
 "resolve": {"axis": {"x": "independent", "y": "independent"}},
 "layer": [
  {"mark": {"type": "bar", "width": {"band": 0.66}, "color": "black"},
   "encoding": {"x": {"field": "key", "type": "nominal", "scale": {"domain": ["D2-","D2+","D4-","D4+","D6-","D6+"], "paddingInner": 0, "paddingOuter": 0, "round": false}, "axis": {"orient": "bottom", "labels": false, "ticks": false, "title": null}},
    "y": {"field": "mean", "type": "quantitative", "scale": {"domain": [0, 2500], "nice": false}, "axis": {"orient": "left", "values": [0,500,1000,1500,2000,2500], "format": "~r", "title": "K", "titleX": -38, "titleY": -22.3, "titleAngle": 0, "titleAlign": "left", "titleBaseline": "alphabetic", "titleFontSize": 26, "minExtent": 0}}}},
  {"mark": {"type": "rule", "strokeWidth": 1.5, "color": "black"},
   "encoding": {"x": {"field": "key", "type": "nominal", "axis": {"orient": "top", "labels": false, "ticks": false, "domain": false, "title": "Adiponectin", "titleX": 72, "titleY": -28.3, "titleAlign": "center", "titleBaseline": "middle", "titleFontSize": 13, "minExtent": 66.7, "maxExtent": 66.7}},
    "y": {"field": "mean", "type": "quantitative", "axis": {"orient": "right", "labels": false, "ticks": false, "domain": false, "title": null, "minExtent": 55, "maxExtent": 55}},
    "y2": {"field": "upper"}}},
  {"mark": {"type": "tick", "orient": "horizontal", "size": 8, "thickness": 1.5, "color": "black"},
   "encoding": {"x": {"field": "key", "type": "nominal", "axis": null}, "y": {"field": "upper", "type": "quantitative", "axis": null}}}
 ]},
{"width": 179, "height": 63.3, "data": {"name": "bars"}, "transform": [{"filter": "datum.p === 'K'"}],
 "layer": [
  {"mark": {"type": "text", "fontSize": 12, "baseline": "middle"}, "encoding": {"x": {"field": "key", "type": "nominal", "scale": {"domain": ["D2-","D2+","D4-","D4+","D6-","D6+"], "paddingInner": 0, "paddingOuter": 0, "round": false}, "axis": null}, "y": {"datum": 0.342, "type": "quantitative", "scale": {"domain": [0, 1], "reverse": true}, "axis": null}, "text": {"field": "trt"}}},
  {"transform": [{"filter": "datum.trt === '-'"}], "mark": {"type": "text", "fontSize": 12, "baseline": "middle"}, "encoding": {"x": {"field": "key", "type": "nominal", "bandPosition": 1, "axis": null}, "y": {"datum": 0.868, "type": "quantitative", "axis": null}, "text": {"field": "day"}}},
  {"transform": [{"filter": "datum.trt === '+'"}], "mark": {"type": "rule", "color": "black"}, "encoding": {"x": {"field": "key", "type": "nominal", "bandPosition": 0, "axis": null}, "y": {"datum": 0, "type": "quantitative", "axis": null}, "y2": {"datum": 0.484}}},
  {"transform": [{"filter": "datum.trt === '-'"}], "mark": {"type": "rule", "color": "black"}, "encoding": {"x": {"field": "key", "type": "nominal", "bandPosition": 0, "axis": null}, "y": {"datum": 0, "type": "quantitative", "axis": null}, "y2": {"datum": 1}}},
  {"transform": [{"filter": "datum.key === 'D6+'"}], "mark": {"type": "rule", "color": "black"}, "encoding": {"x": {"field": "key", "type": "nominal", "bandPosition": 1, "axis": null}, "y": {"datum": 0, "type": "quantitative", "axis": null}, "y2": {"datum": 1}}}
 ]}
], "spacing": 0, "bounds": "flush"},
{"vconcat": [
{"width": 194, "height": 146, "data": {"name": "bars"}, "transform": [{"filter": "datum.p === 'L'"}],
 "resolve": {"axis": {"x": "independent", "y": "independent"}},
 "layer": [
  {"mark": {"type": "bar", "width": {"band": 0.66}, "color": "black"},
   "encoding": {"x": {"field": "key", "type": "nominal", "scale": {"domain": ["D2-","D2+","D4-","D4+","D6-","D6+"], "paddingInner": 0, "paddingOuter": 0, "round": false}, "axis": {"orient": "bottom", "labels": false, "ticks": false, "title": null}},
    "y": {"field": "mean", "type": "quantitative", "scale": {"domain": [0, 12], "nice": false}, "axis": {"orient": "left", "values": [0,2,4,6,8,10,12], "format": "~r", "title": "L", "titleX": -28, "titleY": -22.3, "titleAngle": 0, "titleAlign": "left", "titleBaseline": "alphabetic", "titleFontSize": 26, "minExtent": 0}}}},
  {"mark": {"type": "rule", "strokeWidth": 1.5, "color": "black"},
   "encoding": {"x": {"field": "key", "type": "nominal", "axis": {"orient": "top", "labels": false, "ticks": false, "domain": false, "title": "HSL", "titleX": 83.7, "titleY": -28.3, "titleAlign": "center", "titleBaseline": "middle", "titleFontSize": 13, "minExtent": 66.7, "maxExtent": 66.7}},
    "y": {"field": "mean", "type": "quantitative", "axis": null},
    "y2": {"field": "upper"}}},
  {"mark": {"type": "tick", "orient": "horizontal", "size": 8, "thickness": 1.5, "color": "black"},
   "encoding": {"x": {"field": "key", "type": "nominal", "axis": null}, "y": {"field": "upper", "type": "quantitative", "axis": null}}}
 ]},
{"width": 194, "height": 63.3, "data": {"name": "bars"}, "transform": [{"filter": "datum.p === 'L'"}],
 "layer": [
  {"mark": {"type": "text", "fontSize": 12, "baseline": "middle"}, "encoding": {"x": {"field": "key", "type": "nominal", "scale": {"domain": ["D2-","D2+","D4-","D4+","D6-","D6+"], "paddingInner": 0, "paddingOuter": 0, "round": false}, "axis": null}, "y": {"datum": 0.342, "type": "quantitative", "scale": {"domain": [0, 1], "reverse": true}, "axis": null}, "text": {"field": "trt"}}},
  {"transform": [{"filter": "datum.trt === '-'"}], "mark": {"type": "text", "fontSize": 12, "baseline": "middle"}, "encoding": {"x": {"field": "key", "type": "nominal", "bandPosition": 1, "axis": null}, "y": {"datum": 0.868, "type": "quantitative", "axis": null}, "text": {"field": "day"}}},
  {"transform": [{"filter": "datum.trt === '+'"}], "mark": {"type": "rule", "color": "black"}, "encoding": {"x": {"field": "key", "type": "nominal", "bandPosition": 0, "axis": null}, "y": {"datum": 0, "type": "quantitative", "axis": null}, "y2": {"datum": 0.484}}},
  {"transform": [{"filter": "datum.trt === '-'"}], "mark": {"type": "rule", "color": "black"}, "encoding": {"x": {"field": "key", "type": "nominal", "bandPosition": 0, "axis": null}, "y": {"datum": 0, "type": "quantitative", "axis": null}, "y2": {"datum": 1}}},
  {"transform": [{"filter": "datum.key === 'D6+'"}], "mark": {"type": "rule", "color": "black"}, "encoding": {"x": {"field": "key", "type": "nominal", "bandPosition": 1, "axis": null}, "y": {"datum": 0, "type": "quantitative", "axis": null}, "y2": {"datum": 1}}}
 ]}
], "spacing": 0, "bounds": "flush"}
], "spacing": 0, "bounds": "full"}
],
"spacing": 0,
"bounds": "full",
"align": "none",
"config": {
 "font": "Liberation Sans",
 "view": {"stroke": null},
 "axis": {"grid": false, "labelFont": "Liberation Sans", "labelFontSize": 11, "labelColor": "black", "tickColor": "black", "domainColor": "black", "tickSize": 4, "labelPadding": 10, "titleFont": "Liberation Sans", "titleColor": "black", "titleFontWeight": "normal", "domainWidth": 1, "tickWidth": 1},
 "text": {"font": "Liberation Sans", "color": "black"}
}
}
